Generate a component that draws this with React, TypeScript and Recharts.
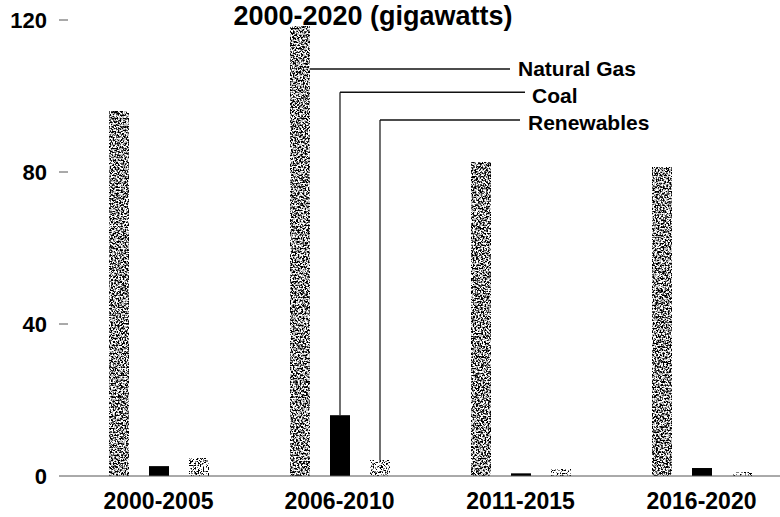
import React from 'react';
import { BarChart, Bar, XAxis, YAxis } from 'recharts';

const categories = ['2000-2005', '2006-2010', '2011-2015', '2016-2020'];
const naturalGas = [96, 118.2, 82.4, 81.3];
const coal = [2.6, 16, 0.7, 2.1];
const renewables = [4.5, 4, 1.75, 1];
const yTicks = [0, 40, 80, 120];
const title = '2000-2020 (gigawatts)';

// annotation: label, value level of leader line, line end x, label x, label dy
const annotatedCategory = '2006-2010';
const annotations = {
  naturalGas: { label: 'Natural Gas', level: 107.1, lineEndX: 510, textX: 518, dy: -1 },
  coal: { label: 'Coal', level: 101.0, lineEndX: 525, textX: 532, dy: 3 },
  renewables: { label: 'Renewables', level: 93.7, lineEndX: 520, textX: 528, dy: 3 },
};

const data = categories.map((c, i) => ({
  category: c,
  naturalGas: naturalGas[i],
  coal: coal[i],
  renewables: renewables[i],
}));

const FONT = '"Liberation Sans", Arial, sans-serif';

const makeShape = (key: 'naturalGas' | 'coal' | 'renewables', fill: string | null, filterId: string | null) =>
  (props: any) => {
    const { x, y, width, height, payload, value } = props;
    const v = Array.isArray(value) ? value[1] - value[0] : value;
    const els: React.ReactNode[] = [];
    els.push(
      <rect
        key="r"
        x={x}
        y={y}
        width={width}
        height={height}
        fill={fill || '#888'}
        filter={filterId ? `url(#${filterId})` : undefined}
      />
    );
    if (payload && payload.category === annotatedCategory && v > 0) {
      const a = annotations[key];
      const base = y + height;
      const ly = base - (a.level * height) / v;
      if (key === 'naturalGas') {
        els.push(<line key="l1" x1={x + width} y1={ly} x2={a.lineEndX} y2={ly} stroke="#111" strokeWidth={1.5} />);
      } else {
        const cx = x + width / 2;
        els.push(<line key="l1" x1={cx} y1={y} x2={cx} y2={ly} stroke="#111" strokeWidth={1.2} />);
        els.push(<line key="l2" x1={cx} y1={ly} x2={a.lineEndX} y2={ly} stroke="#111" strokeWidth={1.5} />);
      }
      els.push(
        <text
          key="t"
          x={a.textX}
          y={ly + a.dy}
          dominantBaseline="central"
          fontFamily={FONT}
          fontWeight="bold"
          fontSize={21}
          fill="#000"
        >
          {a.label}
        </text>
      );
    }
    return <g>{els}</g>;
  };

const ngShape = makeShape('naturalGas', null, 'ngNoise');
const coalShape = makeShape('coal', '#000', null);
const renShape = makeShape('renewables', null, 'renNoise');

export default function App() {
  return (
    <div style={{ position: 'absolute', left: 0, top: 0, width: 780, height: 517, overflow: 'hidden', background: '#fff' }}>
      <svg width={0} height={0} style={{ position: 'absolute' }}>
        <defs>
          <filter id="ngNoise" x="0" y="0" width="1" height="1" colorInterpolationFilters="sRGB">
            <feTurbulence type="fractalNoise" baseFrequency="0.6" numOctaves={2} seed={7} />
            <feColorMatrix type="matrix" values="1 0 0 0 0  1 0 0 0 0  1 0 0 0 0  0 0 0 0 1" />
            <feComponentTransfer>
              <feFuncR type="linear" slope={3} intercept={-1} />
              <feFuncG type="linear" slope={3} intercept={-1} />
              <feFuncB type="linear" slope={3} intercept={-1} />
            </feComponentTransfer>
            <feComponentTransfer>
              <feFuncR type="discrete" tableValues="0 0.3 0.75 1" />
              <feFuncG type="discrete" tableValues="0 0.3 0.75 1" />
              <feFuncB type="discrete" tableValues="0 0.3 0.75 1" />
            </feComponentTransfer>
          </filter>
          <filter id="renNoise" x="0" y="0" width="1" height="1" colorInterpolationFilters="sRGB">
            <feTurbulence type="fractalNoise" baseFrequency="0.6" numOctaves={2} seed={3} />
            <feColorMatrix type="matrix" values="1 0 0 0 0  1 0 0 0 0  1 0 0 0 0  0 0 0 0 1" />
            <feComponentTransfer>
              <feFuncR type="linear" slope={3} intercept={-1} />
              <feFuncG type="linear" slope={3} intercept={-1} />
              <feFuncB type="linear" slope={3} intercept={-1} />
            </feComponentTransfer>
            <feComponentTransfer>
              <feFuncR type="discrete" tableValues="0 0.5 1 1 1" />
              <feFuncG type="discrete" tableValues="0 0.5 1 1 1" />
              <feFuncB type="discrete" tableValues="0 0.5 1 1 1" />
            </feComponentTransfer>
          </filter>
        </defs>
      </svg>
      <BarChart
        width={792}
        height={517}
        data={data}
        margin={{ top: 20, right: 0, bottom: 0, left: 0 }}
        barSize={20}
        barGap={20}
      >
        <XAxis
          dataKey="category"
          height={41}
          axisLine={{ stroke: '#555', strokeWidth: 1 }}
          tickLine={false}
          tickSize={0}
          tickMargin={17}
          tick={{ fill: '#000', fontSize: 23, fontWeight: 'bold', fontFamily: FONT }}
          interval={0}
        />
        <YAxis
          width={68}
          domain={[0, 120]}
          ticks={yTicks}
          axisLine={false}
          tickLine={{ stroke: '#555', strokeWidth: 1 }}
          tickSize={9}
          tickMargin={12}
          tick={{ fill: '#000', fontSize: 22, fontWeight: 'bold', fontFamily: FONT }}
          interval={0}
        />
        <Bar dataKey="naturalGas" isAnimationActive={false} shape={ngShape} />
        <Bar dataKey="coal" isAnimationActive={false} shape={coalShape} />
        <Bar dataKey="renewables" isAnimationActive={false} shape={renShape} />
      </BarChart>
      <svg width={780} height={40} style={{ position: 'absolute', left: 0, top: 0 }}>
        <text x={373} y={25} textAnchor="middle" fontFamily={FONT} fontWeight="bold" fontSize={27} fill="#000">
          {title}
        </text>
      </svg>
    </div>
  );
}
